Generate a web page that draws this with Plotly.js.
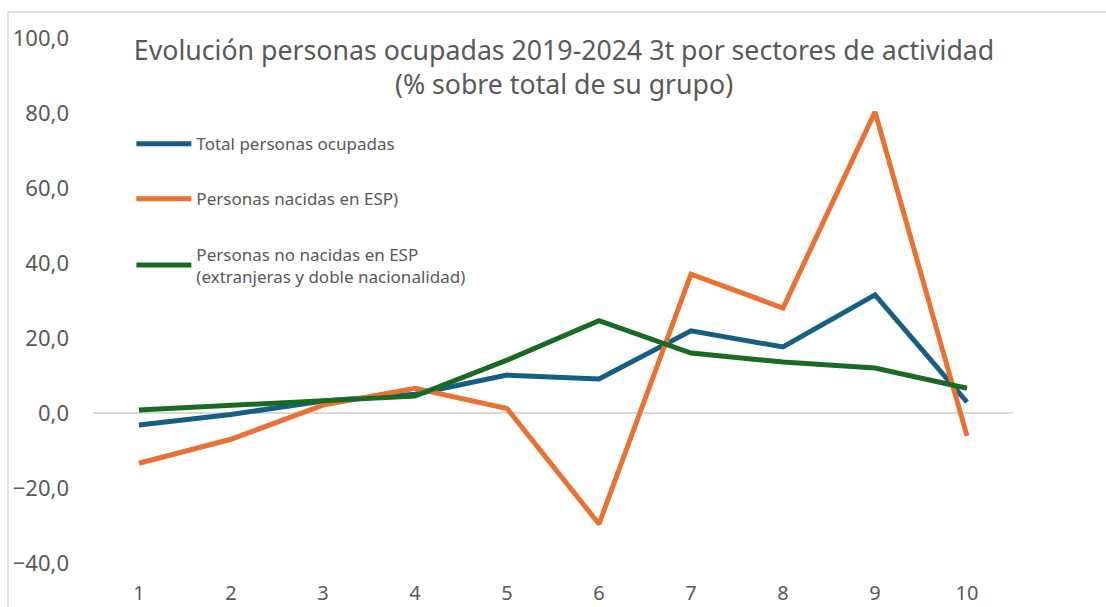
<!DOCTYPE html>
<html>
<head>
<meta charset="utf-8">
<script src="https://cdn.plot.ly/plotly-3.0.1.min.js"></script>
<style>
  html, body { margin: 0; padding: 0; background: #fff; }
  #chart { width: 1106px; height: 607px; }
</style>
</head>
<body>
<div id="chart"></div>
<script>
// sectores (1..10)
var sectores = ['1', '2', '3', '4', '5', '6', '7', '8', '9', '10'];

// % variacion 2019-2024 3t
var totalOcupadas = [-3.2, -0.4, 3.2, 5.0, 10.1, 9.1, 21.9, 17.6, 31.5, 2.9];
var nacidosEsp    = [-13.4, -7.0, 2.1, 6.6, 1.2, -29.6, 37.0, 28.0, 80.3, -6.1];
var noNacidosEsp  = [0.8, 2.1, 3.5, 4.5, 14.1, 24.6, 16.0, 13.6, 12.0, 6.6];

var nombres = [
	'Total personas ocupadas',
	'Personas nacidas en ESP)',
	'Personas no nacidas en ESP<br>(extranjeras y doble nacionalidad)'
];
var colores = ['#156082', '#E97132', '#196B24'];

var yTicks = [-40, -20, 0, 20, 40, 60, 80, 100];

var fuente = 'Aptos, "Noto Sans", sans-serif';
var gris = '#595959';

var series = [totalOcupadas, nacidosEsp, noNacidosEsp];
var data = [];
for (var i = 0; i < series.length; i++) {
	data.push({
		x : sectores,
		y : series[i],
		type : 'scatter',
		mode : 'lines',
		name : nombres[i],
		legendgroup : 'g' + i,
		line : { color : colores[i], width : 5 }
	});
}

var layout = {
	width : 1106,
	height : 607,
	paper_bgcolor : '#ffffff',
	plot_bgcolor : '#ffffff',
	separators : ',.',
	margin : { l : 93, r : 93, t : 38, b : 44 },
	font : { family : fuente, color : gris },
	title : {
		text : 'Evolución personas ocupadas 2019-2024 3t por sectores de actividad<br>(% sobre total de su grupo)',
		font : { family : fuente, size : 26.7, color : gris },
		xref : 'paper',
		x : 0.512,
		xanchor : 'center',
		yref : 'container',
		y : 0.9015,
		yanchor : 'bottom'
	},
	showlegend : true,
	legend : {
		x : 0.0417,
		y : 0.832,
		xanchor : 'left',
		yanchor : 'top',
		bgcolor : 'rgba(0,0,0,0)',
		font : { family : fuente, size : 17, color : gris },
		tracegroupgap : 30,
		itemwidth : 55,
		traceorder : 'grouped'
	},
	xaxis : {
		type : 'category',
		range : [-0.5, 9.5],
		showgrid : false,
		showline : false,
		zeroline : false,
		ticks : '',
		tickfont : { family : fuente, size : 20, color : gris },
		ticklabelstandoff : 16
	},
	yaxis : {
		range : [-40, 100],
		tickvals : yTicks,
		tickformat : '.1f',
		showgrid : false,
		showline : false,
		zeroline : true,
		zerolinecolor : '#d9d9d9',
		zerolinewidth : 1.5,
		ticks : '',
		tickfont : { family : fuente, size : 22, color : gris },
		ticklabelstandoff : 23
	},
	shapes : [{
		type : 'rect',
		xref : 'paper',
		yref : 'paper',
		x0 : -0.0924,
		x1 : 1.2,
		y0 : -0.2,
		y1 : 1.0495,
		line : { color : '#d9d9d9', width : 1.5 },
		fillcolor : 'rgba(0,0,0,0)',
		layer : 'below'
	}]
};

var config = { displayModeBar : false, staticPlot : true };
Plotly.newPlot('chart', data, layout, config);
</script>
</body>
</html>
